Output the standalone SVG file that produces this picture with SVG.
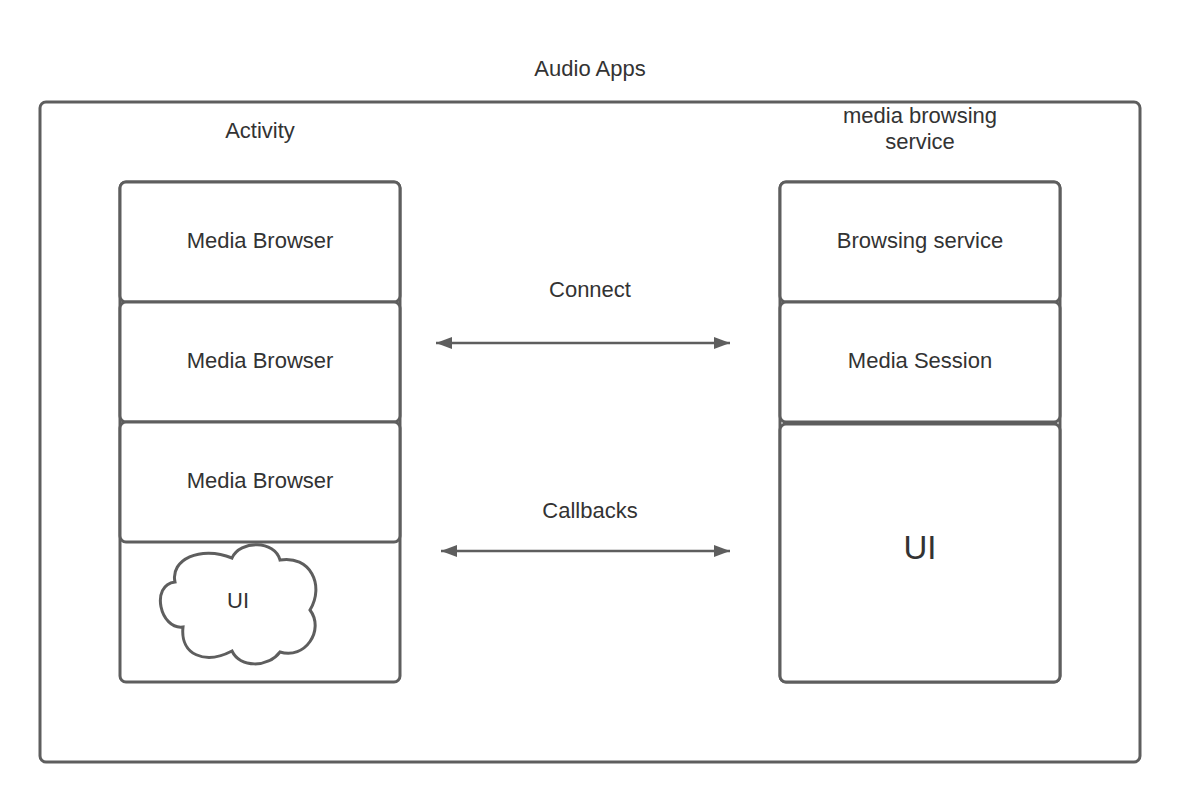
<svg xmlns="http://www.w3.org/2000/svg" width="1180" height="802" viewBox="0 0 1180 802">
<style>
.box{fill:#ffffff;stroke:#5e5e5e;stroke-width:3}
.t{font-family:"Liberation Sans",Arial,sans-serif;font-size:22px;fill:#333333;text-anchor:middle}
.conn{stroke:#5e5e5e;stroke-width:2.5;fill:none}
</style>
<defs>
<marker id="ah" viewBox="0 0 16 12" refX="16" refY="6" markerWidth="16" markerHeight="12" markerUnits="userSpaceOnUse" orient="auto-start-reverse">
<path d="M0,0 L16,6 L0,12 Z" fill="#5e5e5e"/>
</marker>
</defs>
<rect width="1180" height="802" fill="#ffffff"/>
<text class="t" x="590" y="76">Audio Apps</text>
<g id="audio-apps">
<rect class="box" x="40" y="102" width="1100" height="660" rx="6"/>
</g>
<g id="activity">
<text class="t" x="260" y="138">Activity</text>
<rect class="box" x="120" y="182" width="280" height="500" rx="6"/>
</g>
<g id="media-browser-1">
<rect class="box" x="120" y="182" width="280" height="120" rx="6"/>
<text class="t" x="260" y="248">Media Browser</text>
</g>
<g id="media-browser-2">
<rect class="box" x="120" y="302" width="280" height="120" rx="6"/>
<text class="t" x="260" y="368">Media Browser</text>
</g>
<g id="media-browser-3">
<rect class="box" x="120" y="422" width="280" height="120" rx="6"/>
<text class="t" x="260" y="488">Media Browser</text>
</g>
<g id="ui-cloud">
<path class="box" d="M175,582 C170,560 200,545 232,558 C240,540 275,540 280,560 C310,555 325,585 310,610 C325,630 305,660 280,652 C268,668 240,668 232,651 C205,665 180,655 183,627 C160,630 150,585 175,582 Z"/>
<text class="t" x="238" y="608">UI</text>
</g>
<g id="media-browsing-service">
<text class="t" x="920" y="123">media browsing</text>
<text class="t" x="920" y="149">service</text>
<rect class="box" x="780" y="182" width="280" height="500" rx="6"/>
</g>
<g id="browsing-service">
<rect class="box" x="780" y="182" width="280" height="120" rx="6"/>
<text class="t" x="920" y="248">Browsing service</text>
</g>
<g id="media-session">
<rect class="box" x="780" y="302" width="280" height="120" rx="6"/>
<text class="t" x="920" y="368">Media Session</text>
</g>
<g id="ui-right">
<rect class="box" x="780" y="424" width="280" height="258" rx="6"/>
<text class="t" x="920" y="559" style="font-size:33px">UI</text>
</g>
<g id="connectors">
<line class="conn" x1="436" y1="343" x2="730" y2="343" marker-start="url(#ah)" marker-end="url(#ah)"/>
<text class="t" x="590" y="297">Connect</text>
<line class="conn" x1="441" y1="551" x2="730" y2="551" marker-start="url(#ah)" marker-end="url(#ah)"/>
<text class="t" x="590" y="518">Callbacks</text>
</g>
</svg>
